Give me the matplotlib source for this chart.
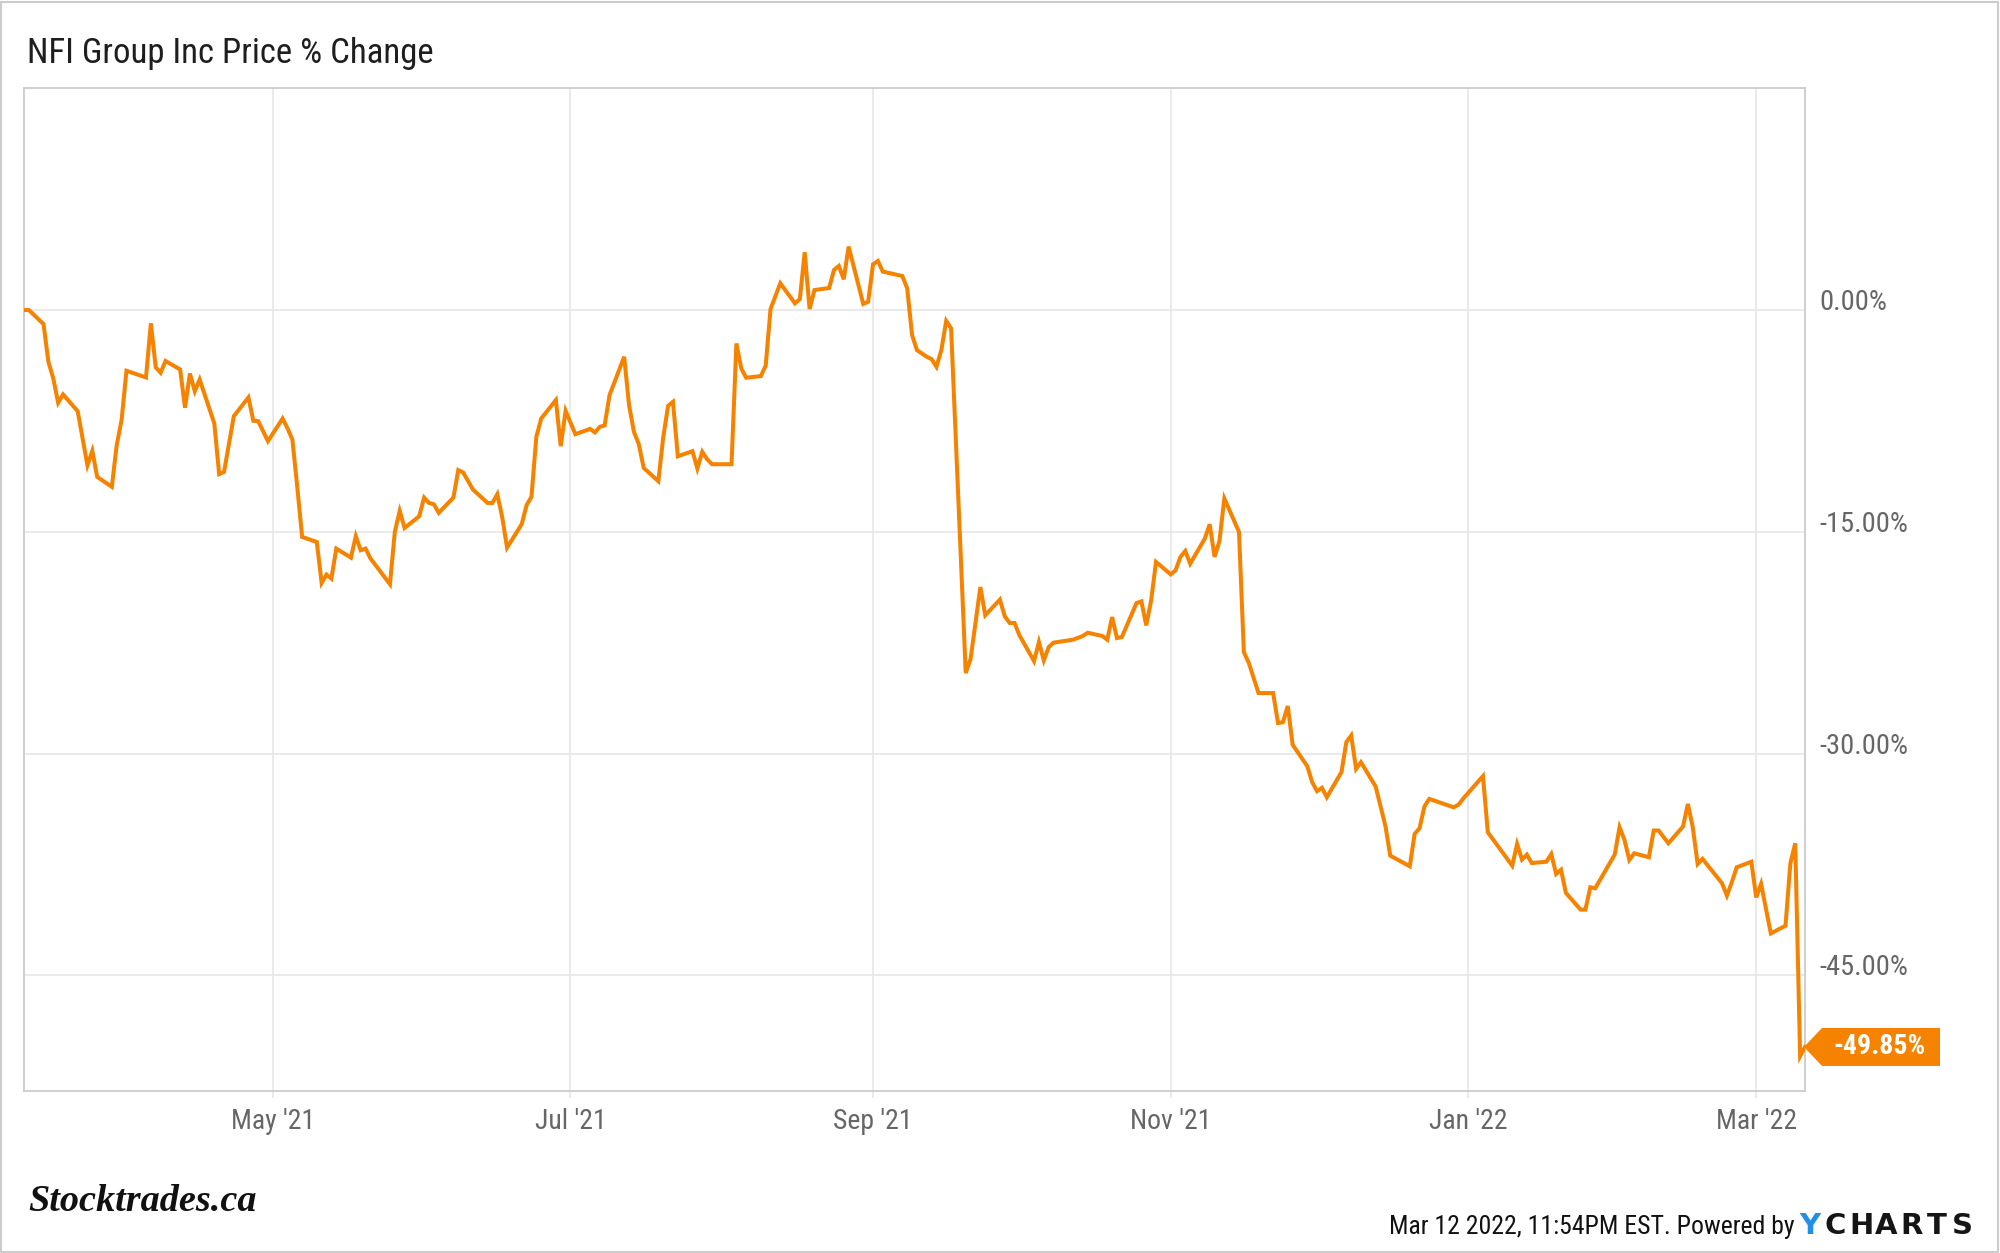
import matplotlib
matplotlib.use("Agg")
import matplotlib.pyplot as plt
import matplotlib.dates as mdates
import matplotlib.transforms as mtransforms
from matplotlib.patches import Polygon, Rectangle
from matplotlib.ticker import FixedLocator
import pandas as pd

# ---------------- data ----------------
start_date = "2021-03-11"
end_date = "2022-03-11"

# calendar days since start_date for each price observation
day_offsets = [
    0, 1, 4, 5, 6, 7, 8, 11, 13, 14, 15, 18, 19, 20, 21, 25, 26, 27, 28, 29,
    32, 33, 34, 35, 36, 39, 40, 41, 42, 43, 46, 47, 48, 49, 50, 53, 54, 55, 56, 57,
    60, 61, 62, 63, 64, 67, 68, 69, 70, 71, 75, 76, 77, 78, 81, 82, 83, 84, 85, 88,
    89, 90, 92, 95, 96, 97, 98, 99, 102, 103, 104, 105, 106, 109, 110, 111, 113, 116, 117, 118,
    119, 120, 123, 124, 125, 126, 127, 130, 131, 132, 133, 134, 137, 138, 139, 140, 141, 145, 146, 147,
    148, 151, 152, 153, 155, 158, 159, 160, 161, 162, 165, 166, 167, 168, 169, 172, 173, 174, 175, 176,
    180, 181, 182, 183, 185, 186, 187, 188, 189, 190, 193, 194, 196, 197, 200, 201, 202, 203, 204, 207,
    208, 209, 210, 211, 215, 217, 218, 221, 222, 223, 224, 225, 228, 229, 230, 231, 232, 235, 236, 237,
    238, 239, 242, 243, 244, 245, 246, 249, 250, 251, 253, 256, 257, 258, 259, 260, 263, 264, 265, 266,
    267, 270, 271, 272, 273, 274, 277, 279, 280, 284, 285, 286, 287, 288, 293, 294, 295, 299, 300, 305,
    306, 307, 308, 309, 312, 313, 314, 315, 316, 319, 320, 321, 322, 326, 327, 328, 329, 330, 333, 334,
    335, 337, 340, 341, 342, 343, 344, 348, 349, 350, 351, 354, 355, 356, 358, 361, 362, 363, 364, 365,
]

pct_change = [
    0.0, 0.0, -0.95, -3.5, -4.63, -6.27, -5.71, -6.84, -10.5, -9.53, -11.29, -11.96, -9.14, -7.45, -4.11, -4.56, -0.90, -3.88, -4.24, -3.45,
    -4.02, -6.61, -4.29, -5.49, -4.70, -7.67, -11.1, -10.95, -9.07, -7.18, -5.91, -7.49, -7.52, -8.2, -8.87, -7.34, -8.0, -8.76, -11.96, -15.35,
    -15.69, -18.46, -17.9, -18.17, -16.14, -16.75, -15.3, -16.25, -16.14, -16.8, -18.55, -15.0, -13.59, -14.74, -13.95, -12.69, -13.05, -13.14, -13.72, -12.69,
    -10.83, -10.99, -12.14, -13.05, -13.05, -12.46, -14.0, -16.07, -14.49, -13.2, -12.64, -8.58, -7.34, -6.09, -9.21, -6.82, -8.4, -8.04, -8.28, -7.9,
    -7.81, -5.76, -3.16, -6.43, -8.24, -9.07, -10.68, -11.58, -8.62, -6.48, -6.21, -9.89, -9.55, -10.72, -9.59, -10.09, -10.43, -10.43, -2.26, -3.95,
    -4.58, -4.47, -3.77, 0.07, 1.81, 0.45, 0.74, 3.91, 0.07, 1.35, 1.49, 2.71, 2.98, 2.08, 4.29, 0.41, 0.56, 3.09, 3.32, 2.60,
    2.30, 1.47, -1.69, -2.71, -3.16, -3.32, -3.84, -2.71, -0.74, -1.24, -24.56, -23.59, -18.74, -20.65, -19.59, -20.72, -21.17, -21.17, -22.0, -23.75,
    -22.46, -23.7, -22.8, -22.5, -22.3, -22.05, -21.83, -22.05, -22.3, -20.77, -22.19, -22.12, -19.82, -19.71, -21.33, -19.64, -17.04, -17.88, -17.61, -16.70,
    -16.30, -17.16, -15.46, -14.49, -16.70, -15.62, -12.75, -15.01, -23.14, -23.86, -25.91, -25.91, -27.94, -27.88, -26.79, -29.41, -30.86, -31.94, -32.55, -32.32,
    -32.96, -31.26, -29.23, -28.78, -31.04, -30.59, -32.23, -34.88, -36.91, -37.63, -35.44, -35.06, -33.59, -33.07, -33.64, -33.46, -33.03, -31.53, -35.33, -37.59,
    -36.12, -37.18, -36.84, -37.41, -37.32, -36.80, -38.15, -37.86, -39.43, -40.56, -40.56, -39.05, -39.12, -36.84, -34.99, -35.84, -37.20, -36.75, -37.02, -35.21,
    -35.21, -36.07, -34.94, -33.41, -34.99, -37.47, -37.13, -38.78, -39.61, -38.71, -37.7, -37.32, -39.73, -38.82, -42.17, -41.65, -37.43, -36.07, -50.47, -49.85,
]

y_ticks = [0, -15, -30, -45]
y_tick_labels = ["0.00%", "-15.00%", "-30.00%", "-45.00%"]
x_tick_months = [1, 3, 5, 7, 9, 11]
title_text = "NFI Group Inc Price % Change"
last_value_label = "-49.85%"
footer_text = "Mar 12 2022, 11:54PM EST. Powered by"
brand_text = "Stocktrades.ca"
logo_first = "Y"
logo_rest = "CHARTS"

# ---------------- style ----------------
ORANGE = "#f58300"
GRID = "#e6e6e6"
SPINE = "#cccccc"
TICK_TXT = "#666666"
plt.rcParams["font.family"] = ["Roboto Condensed", "Roboto", "DejaVu Sans"]

dates = pd.Timestamp(start_date) + pd.to_timedelta(day_offsets, unit="D")

W, H = 2000, 1253
fig = plt.figure(figsize=(W / 100, H / 100), dpi=100)
fig.patch.set_facecolor("white")

ax = fig.add_axes([24 / W, 1 - 1091 / H, (1805 - 24) / W, (1091 - 88) / H])
ax.plot(dates, pct_change, color=ORANGE, lw=2.9, solid_joinstyle="miter", zorder=3)

ax.set_xlim(pd.Timestamp(start_date), pd.Timestamp(end_date))
ax.set_ylim(-52.83, 15.02)

ax.xaxis.set_major_locator(mdates.MonthLocator(bymonth=x_tick_months))
ax.xaxis.set_major_formatter(mdates.DateFormatter("%b '%y"))
ax.yaxis.set_major_locator(FixedLocator(y_ticks))
ax.set_yticklabels(y_tick_labels)

ax.grid(True, color=GRID, lw=1.2, zorder=0)
for s in ax.spines.values():
    s.set_color(SPINE)
    s.set_linewidth(1.3)

ax.tick_params(axis="x", length=5, width=1.2, color=GRID, labelsize=20,
               labelcolor=TICK_TXT, pad=7)
ax.tick_params(axis="y", left=False, right=False, labelleft=False,
               labelright=True, length=0, labelsize=20.5, labelcolor=TICK_TXT, pad=10)
for t in ax.yaxis.get_major_ticks():
    t.label2.set_va("baseline")

# last value tag
blend = mtransforms.blended_transform_factory(ax.transAxes, ax.transData)
v = pct_change[-1]
aw = (1805 - 24)
x_tip = (1804 - 24) / aw
x_sh = (1822 - 24) / aw
x_r = (1940 - 24) / aw
hh = 19 / 14.784
tag = Polygon([(x_tip, v), (x_sh, v + hh), (x_r, v + hh), (x_r, v - hh), (x_sh, v - hh)],
              closed=True, transform=blend, facecolor=ORANGE, edgecolor="none",
              clip_on=False, zorder=5)
ax.add_patch(tag)
ax.text((x_sh + x_r) / 2 - 0.001, v, last_value_label, transform=blend, ha="center",
        va="center", color="white", fontsize=20, fontweight="bold", clip_on=False, zorder=6)

# title
fig.text(27 / W, 1 - 63 / H, title_text, ha="left", va="baseline",
         fontsize=25, color="#1e1e1e")

# footer
fig.text(28 / W, 1 - 1211 / H, brand_text, ha="left", va="baseline",
         fontsize=27.5, fontweight="bold", fontstyle="italic",
         family=["Liberation Serif", "DejaVu Serif"], color="#111111")
fig.text(1795 / W, 1 - 1234 / H, footer_text, ha="right", va="baseline",
         fontsize=18.5, color="#111111")
fig.text(1799 / W, 1 - 1234 / H, logo_first, ha="left", va="baseline", fontsize=21,
         fontweight="bold", family=["DejaVu Sans"], color="#1f8fe8")
slot = 152 / len(logo_rest)
for i, ch in enumerate(logo_rest):
    fig.text((1823 + slot * (i + 0.5)) / W, 1 - 1234 / H, ch, ha="center", va="baseline",
             fontsize=21, fontweight="bold", family=["DejaVu Sans"], color="#151515")

# outer border
fig.add_artist(Rectangle((1 / W, 1 / H), (W - 3) / W, (H - 3) / H, transform=fig.transFigure,
                         fill=False, edgecolor="#cccccc", lw=1.5))

fig.savefig("out.png", dpi=100, facecolor="white")
